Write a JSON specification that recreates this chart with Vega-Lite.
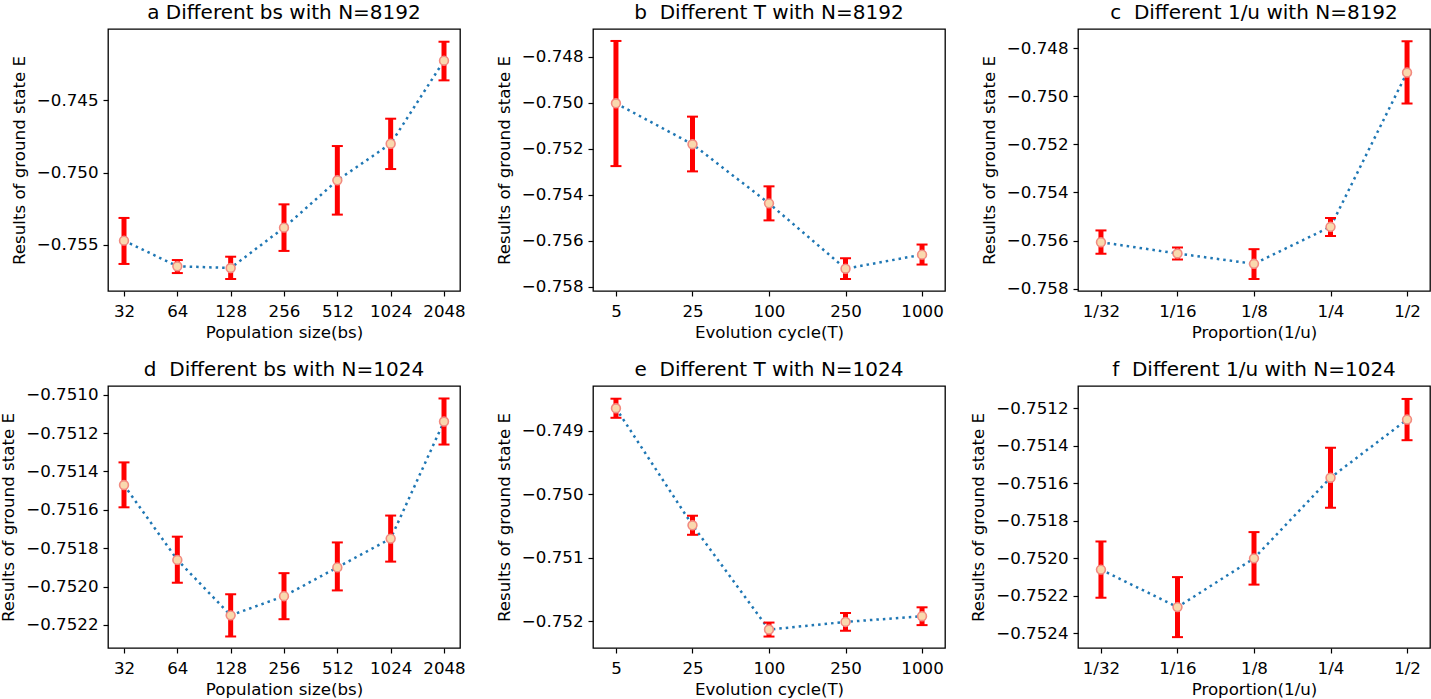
{
  "$schema": "https://vega.github.io/schema/vega-lite/v6.json",
  "background": "white",
  "padding": {"left": 0, "top": 2, "right": 0, "bottom": 0},
  "bounds": "flush",
  "spacing": {"row": 95, "column": 133},
  "columns": 3,
  "concat": [
    {
      "width": 352, "height": 262,
      "title": "a Different bs with N=8192",
      "data": {"values": [
        {"x": "32", "y": -0.7547, "lo": -0.75631, "hi": -0.75313},
        {"x": "64", "y": -0.75647, "lo": -0.75694, "hi": -0.75604},
        {"x": "128", "y": -0.75659, "lo": -0.75735, "hi": -0.75581},
        {"x": "256", "y": -0.7538, "lo": -0.75541, "hi": -0.75219},
        {"x": "512", "y": -0.75053, "lo": -0.7529, "hi": -0.74816},
        {"x": "1024", "y": -0.748, "lo": -0.74975, "hi": -0.74627},
        {"x": "2048", "y": -0.74226, "lo": -0.74362, "hi": -0.74095}
      ]},
      "encoding": {"x": {"field": "x", "type": "ordinal", "sort": ["32","64","128","256","512","1024","2048"], "scale": {"type": "point", "padding": 0.3}, "axis": {"title": "Population size(bs)", "labelAngle": 0}}},
      "layer": [
        {"mark": {"type": "line", "color": "#1f77b4", "strokeDash": [2.5, 4], "strokeWidth": 2.5}, "encoding": {"y": {"field": "y", "type": "quantitative", "scale": {"domain": [-0.75818, -0.74007], "nice": false, "zero": false}, "axis": {"values": [-0.755, -0.75, -0.745], "format": ".3f", "title": "Results of ground state E"}}}},
        {"mark": {"type": "rule", "color": "#ff0000", "strokeWidth": 5}, "encoding": {"y": {"field": "lo", "type": "quantitative"}, "y2": {"field": "hi"}}},
        {"mark": {"type": "tick", "color": "#ff0000", "orient": "horizontal", "size": 11, "thickness": 2, "opacity": 1}, "encoding": {"y": {"field": "lo", "type": "quantitative"}}},
        {"mark": {"type": "tick", "color": "#ff0000", "orient": "horizontal", "size": 11, "thickness": 2, "opacity": 1}, "encoding": {"y": {"field": "hi", "type": "quantitative"}}},
        {"mark": {"type": "point", "shape": "circle", "filled": true, "size": 78, "fill": "#f9d9ae", "stroke": "#f28a80", "strokeWidth": 1.6, "opacity": 1}, "encoding": {"y": {"field": "y", "type": "quantitative"}}}
      ]
    },
    {
      "width": 352, "height": 262,
      "title": "b\u00a0\u00a0Different T with N=8192",
      "data": {"values": [
        {"x": "5", "y": -0.75003, "lo": -0.75276, "hi": -0.74732},
        {"x": "25", "y": -0.75181, "lo": -0.75299, "hi": -0.75061},
        {"x": "100", "y": -0.75438, "lo": -0.75512, "hi": -0.75364},
        {"x": "250", "y": -0.75722, "lo": -0.75767, "hi": -0.75677},
        {"x": "1000", "y": -0.75661, "lo": -0.75704, "hi": -0.75617}
      ]},
      "encoding": {"x": {"field": "x", "type": "ordinal", "sort": ["5","25","100","250","1000"], "scale": {"type": "point", "padding": 0.3}, "axis": {"title": "Evolution cycle(T)", "labelAngle": 0}}},
      "layer": [
        {"mark": {"type": "line", "color": "#1f77b4", "strokeDash": [2.5, 4], "strokeWidth": 2.5}, "encoding": {"y": {"field": "y", "type": "quantitative", "scale": {"domain": [-0.75819, -0.7468], "nice": false, "zero": false}, "axis": {"values": [-0.758, -0.756, -0.754, -0.752, -0.75, -0.748], "format": ".3f", "title": "Results of ground state E"}}}},
        {"mark": {"type": "rule", "color": "#ff0000", "strokeWidth": 5}, "encoding": {"y": {"field": "lo", "type": "quantitative"}, "y2": {"field": "hi"}}},
        {"mark": {"type": "tick", "color": "#ff0000", "orient": "horizontal", "size": 11, "thickness": 2, "opacity": 1}, "encoding": {"y": {"field": "lo", "type": "quantitative"}}},
        {"mark": {"type": "tick", "color": "#ff0000", "orient": "horizontal", "size": 11, "thickness": 2, "opacity": 1}, "encoding": {"y": {"field": "hi", "type": "quantitative"}}},
        {"mark": {"type": "point", "shape": "circle", "filled": true, "size": 78, "fill": "#f9d9ae", "stroke": "#f28a80", "strokeWidth": 1.6, "opacity": 1}, "encoding": {"y": {"field": "y", "type": "quantitative"}}}
      ]
    },
    {
      "width": 352, "height": 262,
      "title": "c\u00a0\u00a0Different 1/u with N=8192",
      "data": {"values": [
        {"x": "1/32", "y": -0.75607, "lo": -0.75655, "hi": -0.75558},
        {"x": "1/16", "y": -0.75654, "lo": -0.75679, "hi": -0.75629},
        {"x": "1/8", "y": -0.75697, "lo": -0.7576, "hi": -0.75636},
        {"x": "1/4", "y": -0.75543, "lo": -0.75581, "hi": -0.75506},
        {"x": "1/2", "y": -0.74901, "lo": -0.7503, "hi": -0.74771}
      ]},
      "encoding": {"x": {"field": "x", "type": "ordinal", "sort": ["1/32","1/16","1/8","1/4","1/2"], "scale": {"type": "point", "padding": 0.3}, "axis": {"title": "Proportion(1/u)", "labelAngle": 0}}},
      "layer": [
        {"mark": {"type": "line", "color": "#1f77b4", "strokeDash": [2.5, 4], "strokeWidth": 2.5}, "encoding": {"y": {"field": "y", "type": "quantitative", "scale": {"domain": [-0.7581, -0.7472], "nice": false, "zero": false}, "axis": {"values": [-0.758, -0.756, -0.754, -0.752, -0.75, -0.748], "format": ".3f", "title": "Results of ground state E"}}}},
        {"mark": {"type": "rule", "color": "#ff0000", "strokeWidth": 5}, "encoding": {"y": {"field": "lo", "type": "quantitative"}, "y2": {"field": "hi"}}},
        {"mark": {"type": "tick", "color": "#ff0000", "orient": "horizontal", "size": 11, "thickness": 2, "opacity": 1}, "encoding": {"y": {"field": "lo", "type": "quantitative"}}},
        {"mark": {"type": "tick", "color": "#ff0000", "orient": "horizontal", "size": 11, "thickness": 2, "opacity": 1}, "encoding": {"y": {"field": "hi", "type": "quantitative"}}},
        {"mark": {"type": "point", "shape": "circle", "filled": true, "size": 78, "fill": "#f9d9ae", "stroke": "#f28a80", "strokeWidth": 1.6, "opacity": 1}, "encoding": {"y": {"field": "y", "type": "quantitative"}}}
      ]
    },
    {
      "width": 352, "height": 262,
      "title": "d\u00a0\u00a0Different bs with N=1024",
      "data": {"values": [
        {"x": "32", "y": -0.751471, "lo": -0.751587, "hi": -0.751353},
        {"x": "64", "y": -0.751861, "lo": -0.75198, "hi": -0.75174},
        {"x": "128", "y": -0.75215, "lo": -0.75226, "hi": -0.75204},
        {"x": "256", "y": -0.75205, "lo": -0.75217, "hi": -0.75193},
        {"x": "512", "y": -0.7519, "lo": -0.75202, "hi": -0.75177},
        {"x": "1024", "y": -0.75175, "lo": -0.75187, "hi": -0.75163},
        {"x": "2048", "y": -0.75114, "lo": -0.75126, "hi": -0.75102}
      ]},
      "encoding": {"x": {"field": "x", "type": "ordinal", "sort": ["32","64","128","256","512","1024","2048"], "scale": {"type": "point", "padding": 0.3}, "axis": {"title": "Population size(bs)", "labelAngle": 0}}},
      "layer": [
        {"mark": {"type": "line", "color": "#1f77b4", "strokeDash": [2.5, 4], "strokeWidth": 2.5}, "encoding": {"y": {"field": "y", "type": "quantitative", "scale": {"domain": [-0.75232, -0.750955], "nice": false, "zero": false}, "axis": {"values": [-0.7522, -0.752, -0.7518, -0.7516, -0.7514, -0.7512, -0.751], "format": ".4f", "title": "Results of ground state E"}}}},
        {"mark": {"type": "rule", "color": "#ff0000", "strokeWidth": 5}, "encoding": {"y": {"field": "lo", "type": "quantitative"}, "y2": {"field": "hi"}}},
        {"mark": {"type": "tick", "color": "#ff0000", "orient": "horizontal", "size": 11, "thickness": 2, "opacity": 1}, "encoding": {"y": {"field": "lo", "type": "quantitative"}}},
        {"mark": {"type": "tick", "color": "#ff0000", "orient": "horizontal", "size": 11, "thickness": 2, "opacity": 1}, "encoding": {"y": {"field": "hi", "type": "quantitative"}}},
        {"mark": {"type": "point", "shape": "circle", "filled": true, "size": 78, "fill": "#f9d9ae", "stroke": "#f28a80", "strokeWidth": 1.6, "opacity": 1}, "encoding": {"y": {"field": "y", "type": "quantitative"}}}
      ]
    },
    {
      "width": 352, "height": 262,
      "title": "e\u00a0\u00a0Different T with N=1024",
      "data": {"values": [
        {"x": "5", "y": -0.74865, "lo": -0.7488, "hi": -0.7485},
        {"x": "25", "y": -0.75049, "lo": -0.75064, "hi": -0.75034},
        {"x": "100", "y": -0.75213, "lo": -0.75224, "hi": -0.75202},
        {"x": "250", "y": -0.75201, "lo": -0.75215, "hi": -0.75187},
        {"x": "1000", "y": -0.75192, "lo": -0.75206, "hi": -0.75178}
      ]},
      "encoding": {"x": {"field": "x", "type": "ordinal", "sort": ["5","25","100","250","1000"], "scale": {"type": "point", "padding": 0.3}, "axis": {"title": "Evolution cycle(T)", "labelAngle": 0}}},
      "layer": [
        {"mark": {"type": "line", "color": "#1f77b4", "strokeDash": [2.5, 4], "strokeWidth": 2.5}, "encoding": {"y": {"field": "y", "type": "quantitative", "scale": {"domain": [-0.75242, -0.7483], "nice": false, "zero": false}, "axis": {"values": [-0.752, -0.751, -0.75, -0.749], "format": ".3f", "title": "Results of ground state E"}}}},
        {"mark": {"type": "rule", "color": "#ff0000", "strokeWidth": 5}, "encoding": {"y": {"field": "lo", "type": "quantitative"}, "y2": {"field": "hi"}}},
        {"mark": {"type": "tick", "color": "#ff0000", "orient": "horizontal", "size": 11, "thickness": 2, "opacity": 1}, "encoding": {"y": {"field": "lo", "type": "quantitative"}}},
        {"mark": {"type": "tick", "color": "#ff0000", "orient": "horizontal", "size": 11, "thickness": 2, "opacity": 1}, "encoding": {"y": {"field": "hi", "type": "quantitative"}}},
        {"mark": {"type": "point", "shape": "circle", "filled": true, "size": 78, "fill": "#f9d9ae", "stroke": "#f28a80", "strokeWidth": 1.6, "opacity": 1}, "encoding": {"y": {"field": "y", "type": "quantitative"}}}
      ]
    },
    {
      "width": 352, "height": 262,
      "title": "f\u00a0\u00a0Different 1/u with N=1024",
      "data": {"values": [
        {"x": "1/32", "y": -0.75206, "lo": -0.75221, "hi": -0.75191},
        {"x": "1/16", "y": -0.75226, "lo": -0.75242, "hi": -0.7521},
        {"x": "1/8", "y": -0.752, "lo": -0.75214, "hi": -0.75186},
        {"x": "1/4", "y": -0.75157, "lo": -0.75173, "hi": -0.75141},
        {"x": "1/2", "y": -0.75126, "lo": -0.75137, "hi": -0.75115}
      ]},
      "encoding": {"x": {"field": "x", "type": "ordinal", "sort": ["1/32","1/16","1/8","1/4","1/2"], "scale": {"type": "point", "padding": 0.3}, "axis": {"title": "Proportion(1/u)", "labelAngle": 0}}},
      "layer": [
        {"mark": {"type": "line", "color": "#1f77b4", "strokeDash": [2.5, 4], "strokeWidth": 2.5}, "encoding": {"y": {"field": "y", "type": "quantitative", "scale": {"domain": [-0.752478, -0.751081], "nice": false, "zero": false}, "axis": {"values": [-0.7524, -0.7522, -0.752, -0.7518, -0.7516, -0.7514, -0.7512], "format": ".4f", "title": "Results of ground state E"}}}},
        {"mark": {"type": "rule", "color": "#ff0000", "strokeWidth": 5}, "encoding": {"y": {"field": "lo", "type": "quantitative"}, "y2": {"field": "hi"}}},
        {"mark": {"type": "tick", "color": "#ff0000", "orient": "horizontal", "size": 11, "thickness": 2, "opacity": 1}, "encoding": {"y": {"field": "lo", "type": "quantitative"}}},
        {"mark": {"type": "tick", "color": "#ff0000", "orient": "horizontal", "size": 11, "thickness": 2, "opacity": 1}, "encoding": {"y": {"field": "hi", "type": "quantitative"}}},
        {"mark": {"type": "point", "shape": "circle", "filled": true, "size": 78, "fill": "#f9d9ae", "stroke": "#f28a80", "strokeWidth": 1.6, "opacity": 1}, "encoding": {"y": {"field": "y", "type": "quantitative"}}}
      ]
    }
  ],
  "config": {
    "font": "DejaVu Sans",
    "view": {"stroke": "#000000", "strokeWidth": 1.3},
    "axis": {
      "domain": false, "grid": false,
      "tickColor": "#000000", "tickSize": 5, "tickWidth": 1.2,
      "labelFont": "DejaVu Sans", "labelFontSize": 16.67, "labelColor": "#000000", "labelPadding": 5,
      "titleFont": "DejaVu Sans", "titleFontSize": 16.67, "titleFontWeight": "normal", "titleColor": "#000000"
    },
    "axisX": {"titlePadding": 5, "labelPadding": 7},
    "axisY": {"titlePadding": 8},
    "title": {"font": "DejaVu Sans", "fontSize": 20, "fontWeight": "normal", "color": "#000000", "offset": 6}
  }
}
